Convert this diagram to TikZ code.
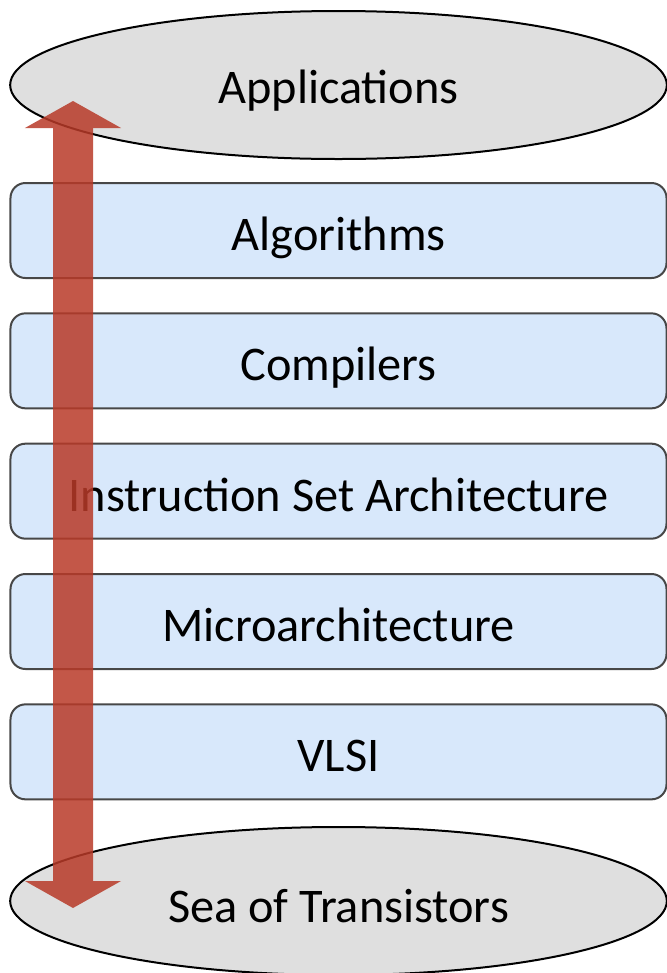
\documentclass[tikz,border=0pt]{standalone}
\usepackage{fontspec}
\setmainfont{Carlito}
\usetikzlibrary{arrows.meta, positioning, shapes.geometric}

\definecolor{layerfill}{RGB}{216,232,251}
\definecolor{layerdraw}{RGB}{71,71,71}
\definecolor{endfill}{RGB}{223,223,223}
\definecolor{spanred}{RGB}{184,58,40}

\begin{document}
\begin{tikzpicture}[
  x=0.3mm, y=-0.3mm,
  font=\fontsize{14.5mm}{16mm}\selectfont,
  layer/.style={draw=layerdraw, line width=0.6mm, fill=layerfill, rounded corners=4.5mm,
    minimum width=196.8mm, minimum height=28.5mm, inner sep=0pt,
    text height=12mm, text depth=0pt},
  endlayer/.style={ellipse, draw, line width=0.6mm, fill=endfill,
    minimum width=197mm, minimum height=44.4mm, inner sep=0pt,
    text height=11mm, text depth=0pt},
  span/.style={spanred, line width=12mm, {Triangle[width=28.5mm, length=8.1mm]}-{Triangle[width=28.5mm, length=8.1mm]}},
  node distance=10mm
]
\useasboundingbox (0,0) rectangle (667,973);

% the two ends of the stack
\node[endlayer] (apps) at (338.5,85) {Applications};

% abstraction layers in between
\node[layer, below=6.6mm of apps] (algo) {Algorithms};
\node[layer, below=of algo] (comp) {Compilers};
\node[layer, below=of comp] (isa) {Instruction Set Architecture};
\node[layer, below=of isa] (uarch) {Microarchitecture};
\node[layer, below=of uarch] (vlsi) {VLSI};

\node[endlayer, text height=12.6mm] (sea) at (338.5,901) {Sea of Transistors};

% two-way arrow over the whole stack
\coordinate (spantop) at (73,101);
\coordinate (spanbot) at (73,908);
\begin{scope}[transparency group, opacity=0.85]
  \draw[span] (spantop) -- (spanbot);
\end{scope}
\end{tikzpicture}
\end{document}
